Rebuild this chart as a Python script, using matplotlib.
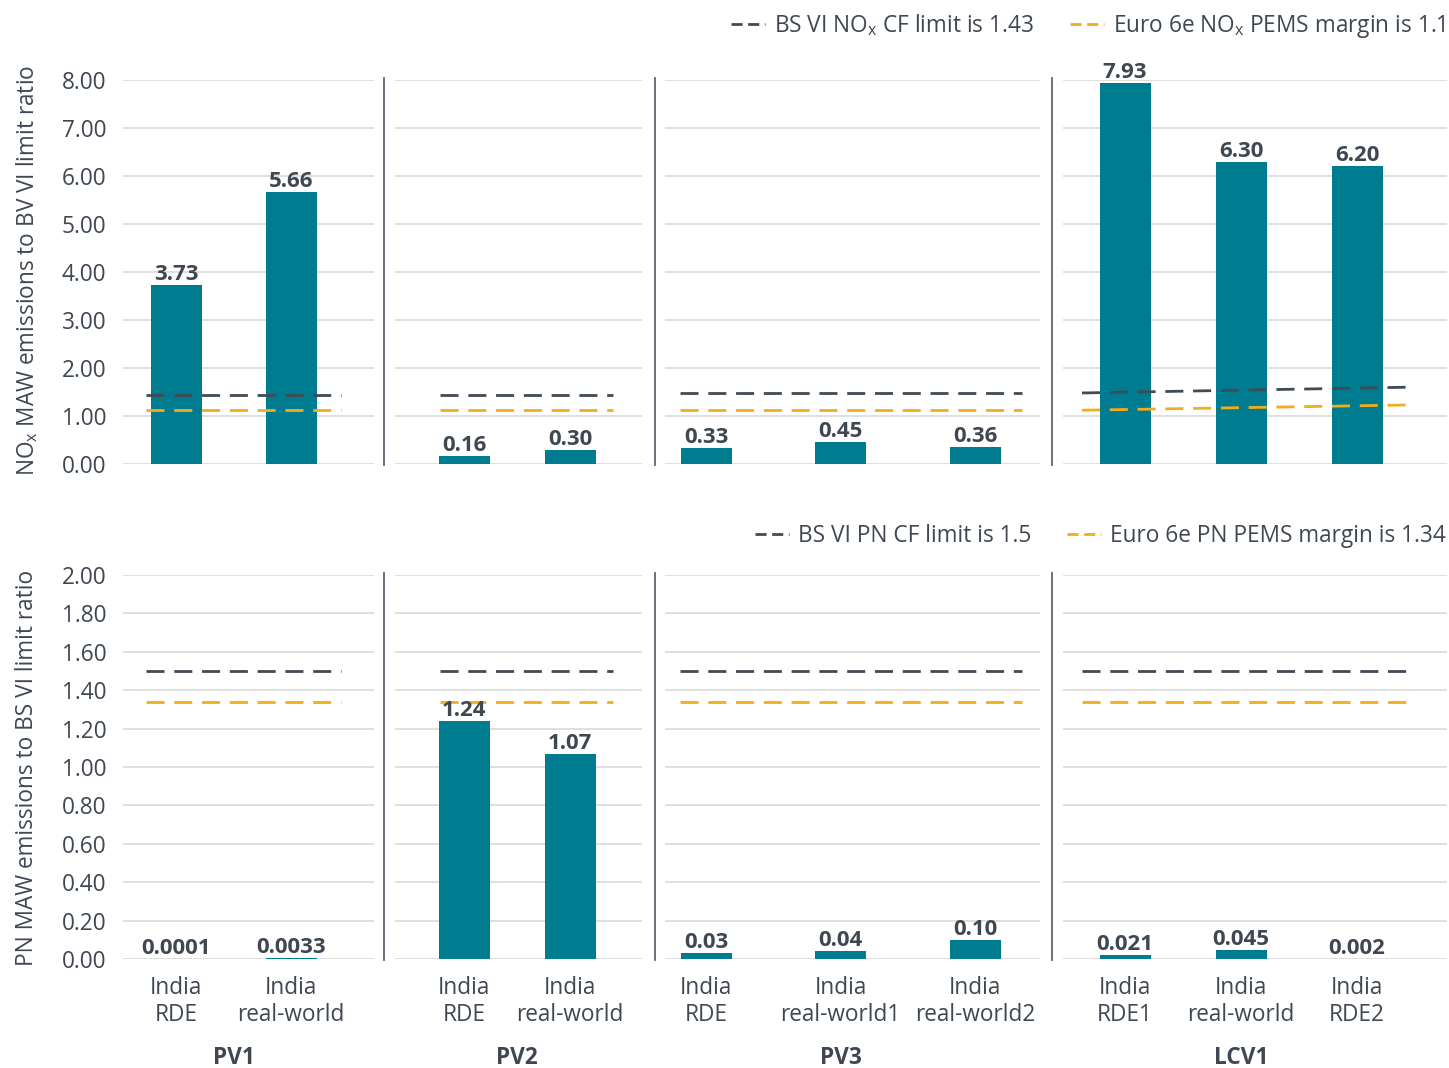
import matplotlib.pyplot as plt
import matplotlib.transforms as mtransforms
from matplotlib.lines import Line2D

plt.rcParams['font.family'] = ['Open Sans', 'DejaVu Sans']
plt.rcParams['mathtext.fontset'] = 'custom'
plt.rcParams['mathtext.rm'] = 'Open Sans'

# vehicles and test routes
groups = ['PV1', 'PV2', 'PV3', 'LCV1']
cats = [['India\nRDE', 'India\nreal-world'],
        ['India\nRDE', 'India\nreal-world'],
        ['India\nRDE', 'India\nreal-world1', 'India\nreal-world2'],
        ['India\nRDE1', 'India\nreal-world', 'India\nRDE2']]

# ratio of MAW emissions to BS VI limit (as printed on the bars)
nox_text = [['3.73', '5.66'], ['0.16', '0.30'], ['0.33', '0.45', '0.36'], ['7.93', '6.30', '6.20']]
pn_text = [['0.0001', '0.0033'], ['1.24', '1.07'], ['0.03', '0.04', '0.10'], ['0.021', '0.045', '0.002']]

# limit / margin lines, (start, end) level per vehicle
nox_cf = [(1.43, 1.43), (1.43, 1.43), (1.48, 1.48), (1.48, 1.60)]
nox_pems = [(1.12, 1.12), (1.12, 1.12), (1.12, 1.12), (1.12, 1.23)]
pn_cf = [(1.5, 1.5)] * 4
pn_pems = [(1.34, 1.34)] * 4

W, H = 1449, 1068
TEAL = '#007c91'
DARK = '#414b55'
ORANGE = '#f2ad1c'
TXT = '#3f4852'
GRID = '#d9d9d9'
FS = 16.3

# panel layout in pixels: gridline extent, first/last bar centre, dashed line extent
panel_px = [(123, 374), (395, 642), (665, 1040), (1063, 1447)]
bar_px = [(176, 291), (464, 570), (706, 975), (1125, 1357)]
line_px = [(146, 341), (440, 613), (680, 1022), (1082, 1408)]
sep_px = [384, 655, 1052]
bar_w_px = 51
rows = [(80, 464), (575, 959)]  # top/bottom pixel of each row

fig = plt.figure(figsize=(W / 100, H / 100), dpi=100)


def to_data(px, first, unit):
    return (px - first) / unit


for r, (vals_txt, cf, pems, ymax, step) in enumerate([
        (nox_text, nox_cf, nox_pems, 8, 1.0),
        (pn_text, pn_cf, pn_pems, 2, 0.2)]):
    top, bot = rows[r]
    for i, g in enumerate(groups):
        l, rr = panel_px[i]
        ax = fig.add_axes([l / W, 1 - bot / H, (rr - l) / W, (bot - top) / H])
        n = len(cats[i])
        first, last = bar_px[i]
        unit = (last - first) / (n - 1)
        x = list(range(n))
        vals = [float(v) for v in vals_txt[i]]
        ax.bar(x, vals, width=bar_w_px / unit, color=TEAL, zorder=3)
        for xi, v, t in zip(x, vals, vals_txt[i]):
            ax.annotate(t, (xi, v), xytext=(0, 0), textcoords='offset points',
                        ha='center', va='bottom', fontsize=FS - 0.3, fontweight='bold',
                        color=TXT, zorder=5, annotation_clip=False)
        x0 = to_data(line_px[i][0], first, unit)
        x1 = to_data(line_px[i][1], first, unit)
        ax.plot([x0, x1], cf[i], color=DARK, lw=2, dashes=(6.5, 3.5), zorder=4)
        ax.plot([x0, x1], pems[i], color=ORANGE, lw=2, dashes=(6.5, 3.5), zorder=4)

        ax.set_xlim(to_data(l, first, unit), to_data(rr, first, unit))
        ax.set_ylim(0, ymax)
        ticks = [k * step for k in range(int(round(ymax / step)) + 1)]
        ax.set_yticks(ticks)
        ax.grid(axis='y', color=GRID, lw=1.2, zorder=0)
        for s in ax.spines.values():
            s.set_visible(False)
        ax.tick_params(length=0, labelsize=FS, colors=TXT, pad=12)
        if i == 0:
            ax.set_yticklabels(['%.2f' % t for t in ticks])
        else:
            ax.set_yticklabels([])
        if r == 1:
            ax.set_xticks(x)
            ax.set_xticklabels(cats[i], linespacing=1.2)
            trans = mtransforms.blended_transform_factory(ax.transData, fig.transFigure)
            ax.text((n - 1) / 2, 1 - 1058 / H, g, transform=trans, ha='center', va='center',
                    fontsize=FS, fontweight='bold', color=TXT)
        else:
            ax.set_xticks([])
        ax.patch.set_alpha(0)

    # separators between vehicles
    for sx in sep_px:
        fig.add_artist(Line2D([sx / W, sx / W], [1 - (top - 2) / H, 1 - (bot + 1) / H],
                              transform=fig.transFigure, color='#5d6770', lw=1.3))

fig.text(27 / W, 1 - 270 / H, r'NO$_\mathregular{x}$ MAW emissions to BV VI limit ratio',
         rotation=90, ha='center', va='center', fontsize=FS, color=TXT)
fig.text(27 / W, 1 - 768 / H, 'PN MAW emissions to BS VI limit ratio',
         rotation=90, ha='center', va='center', fontsize=FS, color=TXT)

# legends
for y_px, labels in [(26, [r'BS VI NO$_\mathregular{x}$ CF limit is 1.43',
                           r'Euro 6e NO$_\mathregular{x}$ PEMS margin is 1.1']),
                     (536, ['BS VI PN CF limit is 1.5', 'Euro 6e PN PEMS margin is 1.34'])]:
    handles = [Line2D([], [], color=DARK, lw=2, dashes=(4, 2)),
               Line2D([], [], color=ORANGE, lw=2, dashes=(4, 2))]
    fig.legend(handles, labels, loc='center right', bbox_to_anchor=(1446 / W, 1 - y_px / H),
               ncol=2, frameon=False, fontsize=FS, handlelength=1.5, handletextpad=0.4,
               columnspacing=1.6, labelcolor=TXT, borderaxespad=0, borderpad=0)

fig.savefig('out.png', dpi=100)
